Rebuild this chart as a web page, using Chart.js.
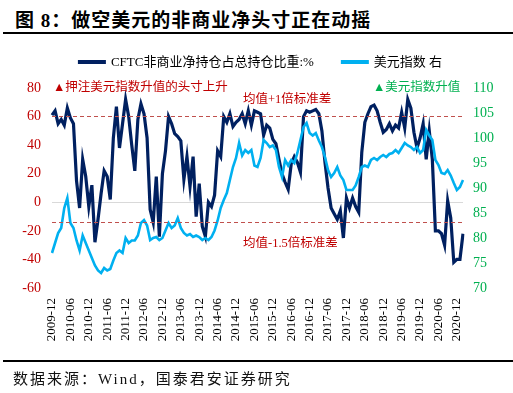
<!DOCTYPE html>
<html>
<head>
<meta charset="utf-8">
<script src="https://cdn.jsdelivr.net/npm/chart.js@4.4.0/dist/chart.umd.min.js"></script>
<style>
  body { margin: 0; width: 513px; height: 393px; position: relative; background: #fff; overflow: hidden; }
  .rule { position: absolute; left: 3px; right: 0; height: 2px; background: #000; }
  #title { position: absolute; left: 15px; top: 9px; font: bold 19px "Liberation Serif", "Noto Sans CJK SC"; letter-spacing: 1px; line-height: 24px; color: #000; }
  #source { position: absolute; left: 13px; top: 369px; font: 15px "Liberation Serif", "Noto Sans CJK SC"; letter-spacing: 2px; line-height: 20px; color: #111; }
  #wrap { position: absolute; left: 0; top: 0; width: 513px; height: 393px; }
</style>
</head>
<body>
<div id="title">图 8：做空美元的非商业净头寸正在动摇</div>
<div class="rule" style="top:32px"></div>
<div id="wrap"><canvas id="chart" width="513" height="393"></canvas></div>
<div class="rule" style="top:360px"></div>
<div id="source">数据来源：Wind，国泰君安证券研究</div>
<script>
// monthly categories, 2009-12 .. 2021-02
const startYear = 2009, startMonth = 12, monthCount = 135;
const months = [];
for (let i = 0; i < monthCount; i++) {
  const m = (startMonth - 1 + i) % 12 + 1;
  const yr = startYear + Math.floor((startMonth - 1 + i) / 12);
  months.push(yr + '-' + String(m).padStart(2, '0'));
}

const tickLabels = ['2009-12','2010-06','2010-12','2011-06','2011-12','2012-06','2012-12',
  '2013-06','2013-12','2014-06','2014-12','2015-06','2015-12','2016-06','2016-12',
  '2017-06','2017-12','2018-06','2018-12','2019-06','2019-12','2020-06','2020-12'];

// CFTC non-commercial net position / open interest, %
const cftcNet = [61,64,55,58,54,66,59,55,15,-4,
  30,18,-3,12,-28,-12,6,22,18,2,
  45,67,38,55,72,60,40,22,58,69,
  62,45,-5,-14,18,-24,20,36,60,55,
  48,46,43,16,32,11,32,-10,13,-17,
  -24,0,-3,5,36,32,60,56,62,53,
  56,58,62,55,64,54,64,63,62,47,
  54,52,44,41,30,20,14,9,27,32,
  28,21,60,64,63,64,65,62,50,28,
  10,-4,-8,-12,-6,-25,3,-4,3,-3,
  -7,35,56,62,67,68,64,56,49,51,
  55,50,54,52,63,52,72,66,49,38,
  45,55,30,50,30,-20,-20,-22,-30,1,
  -11,-42,-40,-40,-22];

// US dollar index (right axis)
const dxy = [77,79,81,82,86,88,83,82,79.5,77.5,
  80.5,79,77.5,76,74.5,73.5,73,74,73.5,73.8,
  75.5,77,77.5,77,80,79,79.5,79.5,80.5,83,
  83.6,82.5,79.6,80,80.2,79.6,80,81.5,83,82,
  82.5,84,82,81,80.5,80.8,80.2,80.5,80.2,79.6,
  80,79.6,80.2,81.5,83.5,86,87.6,89,91.6,94.2,
  96,99,96.5,97.6,97,97.6,94.5,94.2,96,99.6,
  99,98.2,98.5,97.6,94.2,92.2,95.6,94.5,95.6,95,
  97,99.6,102.2,103,101,100.5,101,99.5,98.2,96.2,
  93.6,92.2,93,94.2,92.5,91.6,89.6,89.6,89.6,90.5,
  92.2,94.2,94.5,94.2,95.6,96,95.6,96.2,96.6,96.2,
  96.8,97,97.6,97,98,99,98.5,98.2,97.6,98.2,
  97,97.6,101.6,100.5,99.6,95.6,94.6,93,92.8,93.6,
  92.5,91,89.6,90.2,91.6];

// mean + 1 std, mean - 1.5 std (left axis)
const bandLines = [60.5, -13.8];

const FONT = '"Liberation Serif", "Noto Sans CJK SC", serif';
Chart.defaults.font.family = FONT;

// legend row drawn by hand so it sits exactly between title and plot
const lineLegend = {
  id: 'lineLegend',
  afterDraw(chart) {
    const ctx = chart.ctx;
    const ds = chart.data.datasets;
    const swatch = 28, gapText = 5, gapItem = 27, y = 62;
    ctx.save();
    ctx.font = '13px ' + FONT;
    ctx.textBaseline = 'middle';
    const widths = ds.map(d => swatch + gapText + ctx.measureText(d.label).width);
    const total = widths.reduce((s, w) => s + w, 0) + gapItem * (ds.length - 1);
    let x = 260 - total / 2;
    ds.forEach((d, i) => {
      ctx.strokeStyle = d.borderColor;
      ctx.lineWidth = 4;
      ctx.beginPath();
      ctx.moveTo(x, y);
      ctx.lineTo(x + swatch, y);
      ctx.stroke();
      ctx.fillStyle = '#000';
      ctx.fillText(d.label, x + swatch + gapText, y + 1);
      x += widths[i] + gapItem;
    });
    ctx.restore();
  }
};

const notes = {
  id: 'notes',
  afterDatasetsDraw(chart) {
    const { ctx, chartArea: a, scales: { y } } = chart;
    ctx.save();
    ctx.strokeStyle = '#C0504D';
    ctx.lineWidth = 1.2;
    ctx.setLineDash([4, 3]);
    bandLines.forEach(v => {
      const py = Math.round(y.getPixelForValue(v)) + 0.5;
      ctx.beginPath();
      ctx.moveTo(a.left, py);
      ctx.lineTo(a.right, py);
      ctx.stroke();
    });
    ctx.setLineDash([]);
    ctx.font = '12.5px ' + FONT;
    ctx.textBaseline = 'middle';
    ctx.fillStyle = '#C00000';
    ctx.fillText('▲押注美元指数升值的头寸上升', a.left + 1, a.top);
    ctx.fillText('均值+1倍标准差', a.left + 191, a.top + 12);
    ctx.fillText('均值-1.5倍标准差', a.left + 191, a.top + 156);
    ctx.fillStyle = '#00B050';
    ctx.fillText('▲美元指数升值', a.left + 321, a.top);
    ctx.restore();
  }
};

new Chart(document.getElementById('chart'), {
  type: 'line',
  data: {
    labels: months,
    datasets: [{
      label: 'CFTC非商业净持仓占总持仓比重:%',
      data: cftcNet,
      borderColor: '#002060',
      backgroundColor: '#002060',
      borderWidth: 3.2,
      pointRadius: 0,
      yAxisID: 'y',
      order: 1
    }, {
      label: '美元指数 右',
      data: dxy,
      borderColor: '#00B0F0',
      backgroundColor: '#00B0F0',
      borderWidth: 2.6,
      pointRadius: 0,
      yAxisID: 'y1',
      order: 0
    }]
  },
  options: {
    responsive: false,
    animation: false,
    layout: { padding: { top: 88, left: 0, right: 0, bottom: 0 } },
    plugins: {
      tooltip: { enabled: false },
      legend: { display: false }
    },
    scales: {
      x: {
        grid: { display: false, drawTicks: false },
        border: { display: false },
        ticks: {
          autoSkip: false,
          maxRotation: 90,
          minRotation: 90,
          padding: 10,
          color: '#000',
          font: { size: 13 },
          callback: function (val) {
            const lab = this.getLabelForValue(val);
            return tickLabels.includes(lab) ? lab : '';
          }
        },
        afterFit: s => { s.height = 105; }
      },
      y: {
        position: 'left',
        min: -60, max: 80,
        ticks: { stepSize: 20, padding: 11, color: '#C00000', font: { size: 14 } },
        grid: {
          drawTicks: false,
          color: c => (c.tick && c.tick.value === 0 ? '#D9D9D9' : 'rgba(0,0,0,0)')
        },
        border: { display: false },
        afterFit: s => { s.width = 52; }
      },
      y1: {
        position: 'right',
        min: 70, max: 110,
        ticks: { stepSize: 5, padding: 10, color: '#00B050', font: { size: 14 } },
        grid: { display: false, drawTicks: false },
        border: { display: false },
        afterFit: s => { s.width = 50; }
      }
    }
  },
  plugins: [notes, lineLegend]
});
</script>
</body>
</html>
